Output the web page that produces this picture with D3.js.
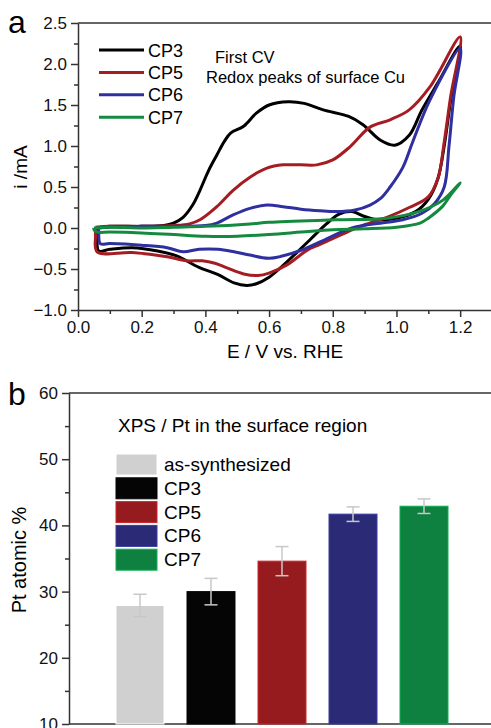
<!DOCTYPE html>
<html>
<head>
<meta charset="utf-8">
<script src="https://cdn.jsdelivr.net/npm/d3@7"></script>
<style>
  body { margin: 0; background: #fff; }
  svg { display: block; font-family: "Liberation Sans", Arial, sans-serif; }
  .axis path, .axis line { stroke: #333; stroke-width: 1.5; }
  .axis text { font-size: 17px; fill: #111; font-family: "Liberation Sans", Arial, sans-serif; }
</style>
</head>
<body>
<svg id="fig" width="491" height="728"></svg>
<script>
// ---- panel a: first CV curves, [E (V vs RHE), i (mA)], anodic then cathodic
const cp3 = [[0.06,0.00],[0.1,0.02],[0.2,0.02],[0.27,0.03],[0.30,0.06],[0.33,0.13],[0.36,0.28],[0.383,0.46],[0.41,0.70],[0.436,0.89],[0.46,1.06],[0.48,1.16],[0.52,1.24],[0.56,1.40],[0.60,1.50],[0.66,1.54],[0.71,1.52],[0.77,1.44],[0.85,1.36],[0.895,1.26],[0.95,1.07],[0.995,1.01],[1.04,1.13],[1.08,1.44],[1.13,1.77],[1.2,2.22],
  [1.17,1.55],[1.15,1.0],[1.13,0.6],[1.1,0.35],[1.06,0.2],[1.0,0.12],[0.94,0.1],[0.9,0.14],[0.86,0.2],[0.82,0.17],[0.78,0.05],[0.74,-0.1],[0.70,-0.25],[0.64,-0.47],[0.60,-0.6],[0.56,-0.68],[0.53,-0.70],[0.49,-0.67],[0.44,-0.57],[0.38,-0.48],[0.31,-0.34],[0.25,-0.28],[0.17,-0.24],[0.1,-0.26],[0.065,-0.28],[0.06,-0.12],[0.06,0.0]];
const cp5 = [[0.055,0.01],[0.1,0.02],[0.2,0.02],[0.3,0.03],[0.35,0.05],[0.383,0.1],[0.436,0.26],[0.487,0.46],[0.54,0.62],[0.593,0.73],[0.644,0.77],[0.70,0.77],[0.75,0.77],[0.80,0.83],[0.854,0.99],[0.917,1.23],[0.98,1.32],[1.04,1.44],[1.105,1.72],[1.2,2.33],
  [1.17,1.6],[1.15,1.05],[1.13,0.6],[1.1,0.38],[1.04,0.25],[0.97,0.13],[0.9,0.04],[0.85,-0.04],[0.76,-0.2],[0.72,-0.27],[0.656,-0.45],[0.6,-0.55],[0.565,-0.58],[0.52,-0.56],[0.47,-0.49],[0.43,-0.43],[0.39,-0.40],[0.34,-0.40],[0.28,-0.35],[0.17,-0.30],[0.06,-0.29],[0.055,-0.1],[0.055,0.01]];
const cp6 = [[0.065,0.0],[0.1,0.01],[0.2,0.02],[0.3,0.02],[0.4,0.03],[0.436,0.06],[0.487,0.16],[0.54,0.24],[0.593,0.28],[0.644,0.26],[0.70,0.23],[0.76,0.21],[0.81,0.20],[0.87,0.22],[0.917,0.28],[0.95,0.36],[0.98,0.5],[1.02,0.74],[1.05,1.04],[1.105,1.56],[1.2,2.19],
  [1.18,1.6],[1.165,1.0],[1.15,0.5],[1.12,0.3],[1.08,0.18],[1.02,0.1],[0.97,0.07],[0.86,0.0],[0.76,-0.17],[0.687,-0.29],[0.6,-0.37],[0.54,-0.33],[0.49,-0.29],[0.44,-0.26],[0.38,-0.26],[0.33,-0.29],[0.28,-0.24],[0.2,-0.21],[0.1,-0.19],[0.07,-0.19],[0.065,-0.06],[0.065,0.0]];
const cp7 = [[0.05,0.0],[0.1,0.01],[0.2,0.0],[0.3,0.01],[0.4,0.02],[0.54,0.05],[0.6,0.07],[0.81,0.10],[0.97,0.12],[1.07,0.2],[1.146,0.34],[1.2,0.55],
  [1.17,0.4],[1.146,0.27],[1.10,0.12],[1.074,0.06],[1.0,0.01],[0.9,-0.01],[0.8,-0.02],[0.7,-0.05],[0.6,-0.08],[0.5,-0.10],[0.4,-0.10],[0.3,-0.08],[0.2,-0.06],[0.1,-0.05],[0.06,-0.05],[0.05,-0.02],[0.05,0.0]];
const cvNames = ["CP3", "CP5", "CP6", "CP7"];
const cvColors = ["#000000", "#a51c22", "#2f2fa0", "#138a3e"];

// ---- panel b: XPS Pt atomic %
const samples = ["as-synthesized", "CP3", "CP5", "CP6", "CP7"];
const ptPercent = [27.9, 30.0, 34.6, 41.7, 42.9];
const ptError = [1.7, 2.0, 2.2, 1.1, 1.1];
const barColors = ["#d0d0d0", "#050505", "#961b1f", "#2a2a76", "#0e803f"];

const svg = d3.select("#fig");

// ================= panel a =================
const xA = d3.scaleLinear().domain([0, 1.3]).range([78, 492]);
const yA = d3.scaleLinear().domain([-1.0, 2.5]).range([310, 23]);

// minor ticks first
svg.append("g").attr("class", "axis").attr("transform", "translate(0,310)")
  .call(d3.axisBottom(xA).tickValues(d3.range(0.1, 1.31, 0.2)).tickSize(4).tickFormat(""))
  .select(".domain").remove();
svg.append("g").attr("class", "axis").attr("transform", "translate(78,0)")
  .call(d3.axisLeft(yA).tickValues(d3.range(-0.75, 2.5, 0.5)).tickSize(4).tickFormat(""))
  .select(".domain").remove();

svg.append("g").attr("class", "axis").attr("transform", "translate(0,310)")
  .call(d3.axisBottom(xA).tickValues(d3.range(0, 1.21, 0.2)).tickSize(7).tickSizeOuter(0).tickPadding(4).tickFormat(d3.format(".1f")));
svg.append("g").attr("class", "axis").attr("transform", "translate(78,0)")
  .call(d3.axisLeft(yA).tickValues(d3.range(-1.0, 2.51, 0.5)).tickSize(7).tickSizeOuter(0).tickPadding(4).tickFormat(d3.format(".1f")));

// top frame
svg.append("line").attr("x1", 78).attr("x2", 491).attr("y1", 23).attr("y2", 23)
  .attr("stroke", "#333").attr("stroke-width", 1.5);

const cvLine = d3.line()
  .x(d => xA(d[0]))
  .y(d => yA(d[1]))
  .curve(d3.curveCatmullRom.alpha(0.5));

[cp3, cp5, cp6, cp7].forEach((c, k) => {
  svg.append("path").datum(c)
    .attr("d", cvLine)
    .attr("fill", "none")
    .attr("stroke", cvColors[k])
    .attr("stroke-width", 3)
    .attr("stroke-linejoin", "round");
});

// legend a
const legA = svg.append("g").attr("transform", "translate(99,50)");
cvNames.forEach((n, k) => {
  legA.append("line").attr("x1", 0).attr("x2", 45).attr("y1", k * 22.4).attr("y2", k * 22.4)
    .attr("stroke", cvColors[k]).attr("stroke-width", 3);
  legA.append("text").attr("x", 49).attr("y", k * 22.4 + 6.5)
    .attr("font-size", 18).text(n);
});

svg.append("text").attr("x", 215).attr("y", 63).attr("font-size", 16.5).text("First CV");
svg.append("text").attr("x", 206).attr("y", 83).attr("font-size", 16.5).text("Redox peaks of surface Cu");

svg.append("text").attr("x", 285).attr("y", 358).attr("text-anchor", "middle")
  .attr("font-size", 19).text("E / V vs. RHE");
svg.append("text").attr("transform", "translate(27,167) rotate(-90)").attr("text-anchor", "middle")
  .attr("font-size", 19).text("i /mA");
svg.append("text").attr("x", 8).attr("y", 33).attr("font-size", 32).text("a");

// ================= panel b =================
const yB = d3.scaleLinear().domain([10, 60]).range([724, 393]);
const xB = d3.scaleBand().domain(samples).range([104.5, 459.5]).paddingInner(0.324).paddingOuter(0.162);

svg.append("g").attr("class", "axis").attr("transform", "translate(69,0)")
  .call(d3.axisLeft(yB).tickValues(d3.range(15, 60, 10)).tickSize(4).tickFormat(""))
  .select(".domain").remove();
svg.append("g").attr("class", "axis").attr("transform", "translate(69,0)")
  .call(d3.axisLeft(yB).tickValues(d3.range(10, 61, 10)).tickSize(7).tickSizeOuter(0).tickPadding(4))
  .selectAll("text").attr("font-size", 18);
svg.append("line").attr("x1", 69).attr("x2", 491).attr("y1", 393).attr("y2", 393)
  .attr("stroke", "#333").attr("stroke-width", 1.5);
svg.append("line").attr("x1", 69).attr("x2", 491).attr("y1", 724).attr("y2", 724)
  .attr("stroke", "#333").attr("stroke-width", 1.5);

const bars = svg.append("g").selectAll("g").data(samples).enter().append("g");
bars.append("rect")
  .attr("x", d => xB(d))
  .attr("width", xB.bandwidth())
  .attr("y", (d, i) => yB(ptPercent[i]))
  .attr("height", (d, i) => yB(10) - yB(ptPercent[i]))
  .attr("fill", (d, i) => barColors[i])
  .attr("stroke", (d, i) => d3.color(barColors[i]).brighter(0.9))
  .attr("stroke-width", 1);

// error bars
const errCol = "#c8c8c8";
bars.append("line")
  .attr("x1", d => xB(d) + xB.bandwidth() / 2).attr("x2", d => xB(d) + xB.bandwidth() / 2)
  .attr("y1", (d, i) => yB(ptPercent[i] - ptError[i])).attr("y2", (d, i) => yB(ptPercent[i] + ptError[i]))
  .attr("stroke", errCol).attr("stroke-width", 1.5);
[-1, 1].forEach(s => {
  bars.append("line")
    .attr("x1", d => xB(d) + xB.bandwidth() / 2 - 6.5).attr("x2", d => xB(d) + xB.bandwidth() / 2 + 6.5)
    .attr("y1", (d, i) => yB(ptPercent[i] + s * ptError[i])).attr("y2", (d, i) => yB(ptPercent[i] + s * ptError[i]))
    .attr("stroke", errCol).attr("stroke-width", 1.5);
});

// legend b
const legB = svg.append("g").attr("transform", "translate(116,454)");
samples.forEach((n, k) => {
  legB.append("rect").attr("x", 0).attr("y", k * 23.8).attr("width", 41).attr("height", 21)
    .attr("fill", barColors[k]).attr("stroke", d3.color(barColors[k]).brighter(0.9)).attr("stroke-width", 1);
  legB.append("text").attr("x", 48).attr("y", k * 23.8 + 17).attr("font-size", 19).text(n);
});
svg.append("text").attr("x", 118).attr("y", 432).attr("font-size", 19).text("XPS / Pt in the surface region");

svg.append("text").attr("transform", "translate(26,560) rotate(-90)").attr("text-anchor", "middle")
  .attr("font-size", 20).text("Pt atomic %");
svg.append("text").attr("x", 8).attr("y", 405).attr("font-size", 32).text("b");
</script>
</body>
</html>
